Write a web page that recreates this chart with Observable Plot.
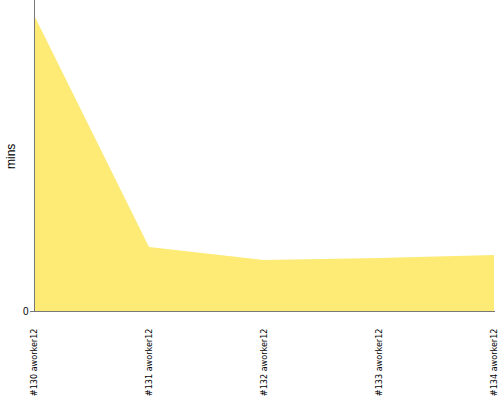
<!DOCTYPE html>
<html>
<head>
<meta charset="utf-8">
<script src="https://cdn.jsdelivr.net/npm/d3@7"></script>
<script src="https://cdn.jsdelivr.net/npm/@observablehq/plot@0.6"></script>
<style>
body { margin: 0; background: #fff; }
#chart svg { display: block; }
</style>
</head>
<body>
<div id="chart"></div>
<script>
const runs = ["#130 aworker12", "#131 aworker12", "#132 aworker12", "#133 aworker12", "#134 aworker12"];
const mins = [19.04, 4.12, 3.28, 3.41, 3.6];
const yTicks = [0];

const data = runs.map((r, i) => ({run: r, mins: mins[i]}));

const chart = Plot.plot({
  width: 500,
  height: 400,
  marginLeft: 33,
  marginRight: 5,
  marginTop: 0,
  marginBottom: 89,
  style: {fontFamily: "'Liberation Sans', sans-serif", fontSize: "10px", color: "#000", background: "#fff"},
  x: {type: "point", domain: runs, padding: 0},
  y: {domain: [0, 20]},
  marks: [
    Plot.areaY(data, {x: "run", y: "mins", fill: "#fdeb75", fillOpacity: 1}),
    Plot.ruleY([0], {stroke: "#777", strokeWidth: 1}),
    Plot.ruleX([runs[0]], {stroke: "#777", strokeWidth: 1}),
    Plot.axisY({ticks: yTicks, tickSize: 3, tickPadding: 2, stroke: "#777", label: null, fontSize: 10}),
    Plot.text(["mins"], {frameAnchor: "left", dx: -22, dy: 13, rotate: -90, fontSize: 12, text: d => d, fill: "#000"}),
    Plot.axisX({tickSize: 0, tickRotate: -90, tickPadding: 17, label: null, fontSize: 9, fontFamily: "'Liberation Sans Narrow', 'DejaVu Sans Condensed', sans-serif"})
  ]
});
document.getElementById("chart").append(chart);
</script>
</body>
</html>
